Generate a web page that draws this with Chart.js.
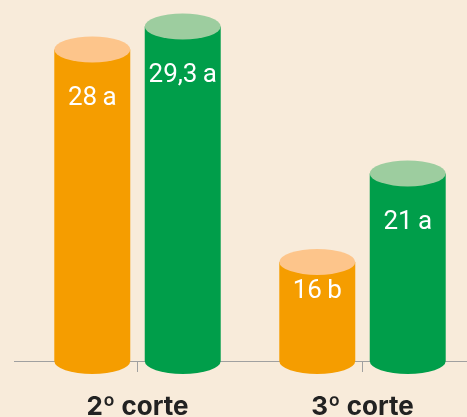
<!DOCTYPE html>
<html>
<head>
<meta charset="utf-8">
<script src="https://cdn.jsdelivr.net/npm/chart.js@4"></script>
<style>
  html, body { margin: 0; padding: 0; overflow: hidden; background: #f8ebda; }
  #wrap { position: absolute; left: 0; top: 0; width: 480px; height: 417px; }
</style>
</head>
<body>
<div id="wrap"><canvas id="grafico" width="480" height="417"></canvas></div>
<script>
/* produtividade por corte — cilindros laranja x verde */
var cortes      = ['2º corte', '3º corte'];
var serieLaranja = [28, 16];
var serieVerde   = [29.3, 21];
var rotLaranja   = ['28\u2009a', '16\u2009b'];
var rotVerde     = ['29,3\u2009a', '21\u2009a'];

var corLaranja = '#f59d00', topoLaranja = '#fdc58b';
var corVerde   = '#009e4a', topoVerde   = '#9dcd9f';

// tampas elípticas + rótulos dentro das barras
var cilindros = {
  id: 'cilindros',
  afterDatasetsDraw: function(chart) {
    var ctx = chart.ctx;
    var area = chart.chartArea;
    // prolonga a linha de base um pouco à esquerda
    ctx.save();
    ctx.strokeStyle = '#a0a0a0';
    ctx.lineWidth = 1;
    ctx.beginPath();
    ctx.moveTo(area.left - 11, area.bottom + 0.5);
    ctx.lineTo(area.left, area.bottom + 0.5);
    ctx.stroke();
    ctx.restore();

    chart.data.datasets.forEach(function(ds, di) {
      var meta = chart.getDatasetMeta(di);
      meta.data.forEach(function(bar, i) {
        var rx = bar.width / 2, ry = 13;
        var base = Math.min(bar.base, area.bottom);
        ctx.save();
        // fundo
        ctx.fillStyle = ds.backgroundColor;
        ctx.beginPath();
        ctx.ellipse(bar.x, base, rx, ry, 0, 0, Math.PI);
        ctx.fill();
        // topo
        ctx.fillStyle = ds.topo;
        ctx.beginPath();
        ctx.ellipse(bar.x, bar.y, rx, ry, 0, 0, Math.PI * 2);
        ctx.fill();
        // rótulo
        var h = base - bar.y;
        var off = Math.min(49, h * 0.3);
        ctx.fillStyle = '#ffffff';
        ctx.font = '400 26px Roboto, "Liberation Sans", sans-serif';
        ctx.textAlign = 'center';
        ctx.textBaseline = 'middle';
        ctx.fillText(ds.rotulos[i], bar.x, bar.y + off);
        ctx.restore();
      });
    });
  }
};

new Chart(document.getElementById('grafico'), {
  type: 'bar',
  data: {
    labels: cortes,
    datasets: [
      { data: serieLaranja, backgroundColor: corLaranja, topo: topoLaranja, rotulos: rotLaranja,
        barPercentage: 0.84, categoryPercentage: 0.804, borderWidth: 0 },
      { data: serieVerde, backgroundColor: corVerde, topo: topoVerde, rotulos: rotVerde,
        barPercentage: 0.84, categoryPercentage: 0.804, borderWidth: 0 }
    ]
  },
  options: {
    responsive: false,
    animation: false,
    layout: { padding: { left: 25, right: 5, top: 0, bottom: 0 } },
    plugins: { legend: { display: false }, tooltip: { enabled: false } },
    scales: {
      x: {
        afterFit: function(s) { s.height = 56; },
        grid: { offset: false, drawOnChartArea: false, drawTicks: true, tickLength: 11, color: '#a0a0a0' },
        border: { display: true, color: '#a0a0a0', width: 1 },
        ticks: { color: '#222222', padding: 20, font: { family: 'Inter, "Liberation Sans", sans-serif', size: 26, weight: '700' } }
      },
      y: { display: false, min: 10.4, max: 30.8 }
    }
  },
  plugins: [cilindros]
});
</script>
</body>
</html>
